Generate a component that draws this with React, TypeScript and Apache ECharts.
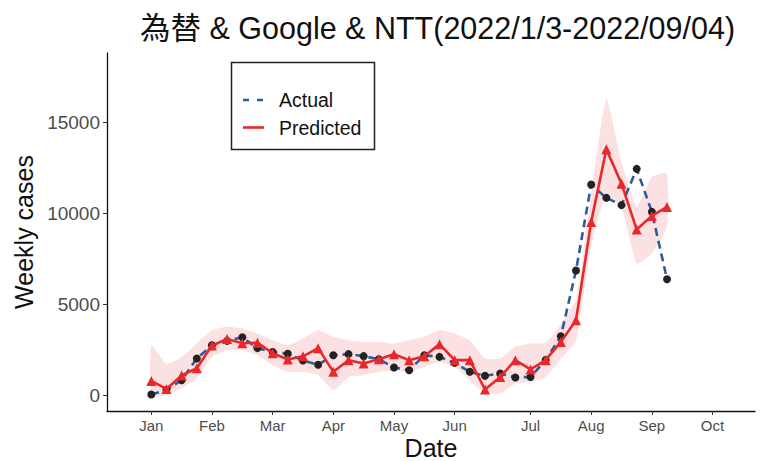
import React, { useEffect, useRef } from "react";
import * as echarts from "echarts";

const titleText = "為替 & Google & NTT(2022/1/3-2022/09/04)";
const xAxisTitle = "Date";
// week index 0 = 2022-01-03
const monthTickIdx = [0, 4, 8, 12, 16, 20, 25, 29, 33, 37];
const monthLabels = ["Jan", "Feb", "Mar", "Apr", "May", "Jun", "Jul", "Aug", "Sep", "Oct"];
const yTicks = [0, 5000, 10000, 15000];

const actual = [60, 300, 840, 2030, 2760, 3000, 3200, 2600, 2390, 2290, 1920, 1690, 2210, 2270, 2160, 1990, 1540, 1390, 2210, 2120, 1790, 1300, 1080, 1210, 990, 1020, 1950, 3250, 6860, 11580, 10850, 10450, 12440, 10080, 6380];
const predicted = [800, 360, 1100, 1500, 2740, 3100, 2870, 2900, 2320, 1980, 2150, 2600, 1300, 1940, 1760, 1990, 2270, 1940, 2160, 2820, 1940, 1940, 330, 1020, 1940, 1430, 1940, 2940, 4130, 9530, 13520, 11630, 9110, 9860, 10350];
const upper = [2760, 1750, 2120, 2870, 3580, 3770, 3680, 3400, 3030, 2760, 3130, 3580, 3220, 3030, 2940, 2940, 2850, 3030, 3220, 3580, 3400, 3030, 2030, 2030, 2670, 2850, 2900, 3900, 5300, 11000, 16300, 12800, 10350, 12000, 12200];
const lower = [0, 0, 400, 950, 2120, 2490, 2490, 2210, 1660, 1300, 1300, 1110, 290, 1020, 1110, 1300, 1390, 1300, 1570, 1840, 1570, 840, 110, 110, 660, 750, 1000, 2000, 3000, 8200, 11000, 10300, 7240, 7790, 9250];

const FONT = "'Liberation Sans', Arial, 'Noto Sans CJK JP', sans-serif";
const NARROW = "'Liberation Sans Narrow', 'Arial Narrow', 'Liberation Sans', sans-serif";

export default function App() {
  const ref = useRef<HTMLDivElement>(null);
  useEffect(() => {
    if (!ref.current) return;
    const chart = echarts.init(ref.current, null, { renderer: "svg" });
    const actualData = actual.map((v, i) => [i, v]);
    const predData = predicted.map((v, i) => [i, v]);
    chart.setOption({
      animation: false,
      backgroundColor: "#ffffff",
      title: {
        text: titleText,
        left: 135,
        top: 8,
        textStyle: { fontFamily: FONT, fontSize: 30.5, fontWeight: "normal", color: "#111" },
      },
      grid: { left: 107, right: 10, top: 53, bottom: 50, outerBoundsMode: "none", containLabel: false },
      xAxis: {
        type: "value",
        min: -2.92,
        max: 39.8,
        axisLine: { show: true, onZero: false, lineStyle: { color: "#111", width: 1.3 } },
        axisTick: { show: true, customValues: monthTickIdx, length: 4, lineStyle: { color: "#333" } },
        axisLabel: {
          customValues: monthTickIdx,
          margin: 7,
          fontFamily: NARROW,
          fontSize: 15,
          color: "#4d4d4d",
          formatter: (v: number) => monthLabels[monthTickIdx.indexOf(v)] ?? "",
        },
        splitLine: { show: false },
      },
      yAxis: {
        type: "value",
        min: -850,
        max: 18800,
        name: "Weekly cases",
        nameLocation: "middle",
        nameGap: 71,
        nameTextStyle: { fontFamily: FONT, fontSize: 25, color: "#111" },
        axisLine: { show: true, onZero: false, lineStyle: { color: "#111", width: 1.3 } },
        axisTick: { show: true, customValues: yTicks, length: 4, lineStyle: { color: "#333" } },
        axisLabel: {
          customValues: yTicks,
          margin: 7,
          fontFamily: FONT,
          fontSize: 19,
          color: "#4d4d4d",
          formatter: (v: number) => String(v),
        },
        splitLine: { show: false },
      },
      series: [
        {
          type: "custom",
          name: "band",
          silent: true,
          data: [0],
          z: 1,
          renderItem: (params: any, api: any) => {
            const pts: number[][] = [];
            for (let i = 0; i < upper.length; i++) pts.push(api.coord([i, upper[i]]));
            for (let i = lower.length - 1; i >= 0; i--) pts.push(api.coord([i, lower[i]]));
            return {
              type: "polygon",
              shape: { points: pts, smooth: 0.15 },
              style: { fill: "rgba(236, 120, 120, 0.22)", stroke: "none" },
            };
          },
        },
        {
          type: "line",
          name: "Actual",
          data: actualData,
          z: 2,
          symbol: "circle",
          symbolSize: 8,
          itemStyle: { color: "#222222", borderWidth: 0 },
          lineStyle: { color: "#2b5c9e", width: 2.6, type: [8, 5] },
        },
        {
          type: "line",
          name: "Predicted",
          data: predData,
          z: 3,
          symbol: "triangle",
          symbolSize: 10,
          itemStyle: { color: "#e8282b", borderWidth: 0 },
          lineStyle: { color: "#e8282b", width: 2.6 },
        },
      ],
      graphic: [
        {
          type: "text",
          x: 431,
          y: 448,
          style: {
            text: xAxisTitle,
            fontFamily: NARROW,
            fontSize: 25,
            fill: "#111",
            align: "center",
            verticalAlign: "middle",
          },
        },
        {
          type: "rect",
          shape: { x: 231.5, y: 62.5, width: 143, height: 87 },
          style: { fill: "#fff", stroke: "#222", lineWidth: 1.5 },
          z: 10,
        },
        {
          type: "line",
          shape: { x1: 243, y1: 100, x2: 264, y2: 100 },
          style: { stroke: "#2b5c9e", lineWidth: 2.6, lineDash: [6, 8] },
          z: 11,
        },
        {
          type: "line",
          shape: { x1: 243, y1: 127.5, x2: 264, y2: 127.5 },
          style: { stroke: "#e8282b", lineWidth: 2.6 },
          z: 11,
        },
        {
          type: "text",
          x: 279,
          y: 100,
          style: { text: "Actual", fontFamily: FONT, fontSize: 19.5, fill: "#111", verticalAlign: "middle" },
          z: 11,
        },
        {
          type: "text",
          x: 279,
          y: 127.5,
          style: { text: "Predicted", fontFamily: FONT, fontSize: 19.5, fill: "#111", verticalAlign: "middle" },
          z: 11,
        },
      ],
    });
    return () => chart.dispose();
  }, []);
  return <div ref={ref} style={{ width: 765, height: 461, position: "absolute", left: 0, top: 0 }} />;
}
